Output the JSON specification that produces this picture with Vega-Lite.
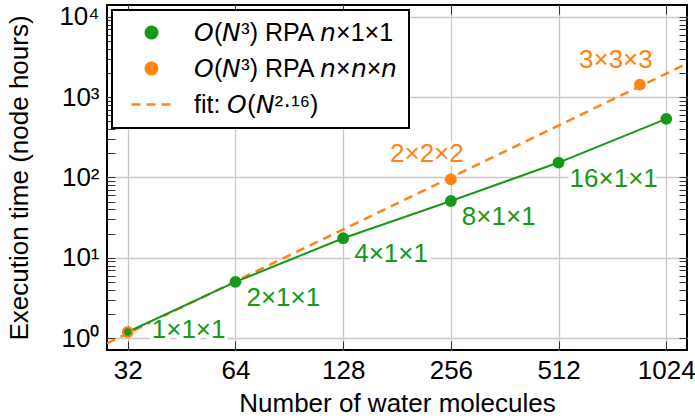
{
  "$schema": "https://vega.github.io/schema/vega-lite/v6.json",
  "width": 580,
  "height": 345,
  "autosize": {"type": "none"},
  "padding": {"left": 107, "top": 5, "right": 8, "bottom": 70},
  "background": "white",
  "config": {
    "font": "Liberation Sans",
    "view": {"stroke": "black", "strokeWidth": 2},
    "axis": {"labelFont": "Liberation Sans", "titleFont": "Liberation Sans", "labelColor": "black", "titleColor": "black", "titleFontWeight": "normal"}
  },
  "datasets": {
    "green": [
      {"N": 32, "t": 1.19, "series": "n11", "label": "1×1×1"},
      {"N": 64, "t": 5.0, "series": "n11", "label": "2×1×1"},
      {"N": 128, "t": 17.5, "series": "n11", "label": "4×1×1"},
      {"N": 256, "t": 50.8, "series": "n11", "label": "8×1×1"},
      {"N": 512, "t": 153, "series": "n11", "label": "16×1×1"},
      {"N": 1024, "t": 536, "series": "n11", "label": "32×1×1"}
    ],
    "orange": [
      {"N": 32, "t": 1.19, "series": "nnn", "label": "1×1×1"},
      {"N": 256, "t": 94.5, "series": "nnn", "label": "2×2×2"},
      {"N": 864, "t": 1430, "series": "nnn", "label": "3×3×3"}
    ],
    "fit": [
      {"N": 28, "t": 0.86, "series": "fit"},
      {"N": 1170, "t": 2610, "series": "fit"}
    ]
  },
  "resolve": {"axis": {"x": "independent", "y": "independent"}},
  "layer": [
    {
      "data": {"name": "fit"},
      "mark": {"type": "line", "strokeDash": [9, 6], "strokeWidth": 2.5, "clip": true},
      "encoding": {
        "x": {"field": "N", "type": "quantitative",
          "scale": {"type": "log", "base": 2, "domain": [28, 1170], "nice": false},
          "axis": {"orient": "bottom", "values": [32, 64, 128, 256, 512, 1024], "format": "d", "ticks": true, "tickSize": -9, "tickColor": "#333", "domain": false,
            "grid": true, "gridColor": "#c8c8c8", "gridWidth": 1.3,
            "labelFontSize": 26, "labelPadding": 16, "title": "Number of water molecules", "titleFontSize": 26, "titlePadding": 7}},
        "y": {"field": "t", "type": "quantitative",
          "scale": {"type": "log", "domain": [0.71, 14000], "nice": false},
          "axis": {"orient": "left", "values": [1,2,3,4,5,6,7,8,9,10,20,30,40,50,60,70,80,90,100,200,300,400,500,600,700,800,900,1000,2000,3000,4000,5000,6000,7000,8000,9000,10000],
            "ticks": true, "tickSize": -8, "tickColor": "#333", "domain": false,
            "grid": true, "gridColor": "#c8c8c8", "gridWidth": 1.3,
            "gridOpacity": {"condition": {"test": "abs(log(datum.value)/LN10 - round(log(datum.value)/LN10)) < 0.001", "value": 1}, "value": 0},
            "labelExpr": "abs(log(datum.value)/LN10 - round(log(datum.value)/LN10)) < 0.001 ? '10' + ['⁰','¹','²','³','⁴'][round(log(datum.value)/LN10)] : ''",
            "labelFontSize": 26, "labelPadding": 16, "title": "Execution time (node hours)", "titleFontSize": 26, "titlePadding": 26}},
        "color": {"field": "series", "type": "nominal",
          "scale": {"domain": ["n11", "nnn", "fit"], "range": ["#16991a", "#ff8414", "#ff8414"]},
          "legend": {"orient": "top-left", "offset": 5, "title": null, "fillColor": "white", "strokeColor": "black",
            "padding": 10, "rowPadding": 10, "labelFontSize": 25, "labelFont": "Liberation Sans", "labelColor": "black", "labelLimit": 600,
            "symbolType": "circle", "symbolSize": 130, "symbolOffset": 17, "labelOffset": 30,
            "labelExpr": "datum.value == 'n11' ? '𝘖(𝘕³) RPA 𝘯×1×1' : datum.value == 'nnn' ? '𝘖(𝘕³) RPA 𝘯×𝘯×𝘯' : 'fit: 𝘖(𝘕²·¹⁶)'",
            "encode": {
              "legend": {"update": {"strokeWidth": {"value": 2}}},
              "symbols": {"update": {
                "shape": {"signal": "datum.value === 'fit' ? 'stroke' : 'circle'"},
                "size": {"signal": "datum.value === 'fit' ? 1600 : 130"},
                "fill": {"signal": "datum.value === 'fit' ? 'transparent' : (datum.value === 'n11' ? '#16991a' : '#ff8414')"},
                "stroke": {"signal": "datum.value === 'fit' ? '#ff8414' : 'transparent'"},
                "strokeWidth": {"value": 2.5},
                "strokeDash": {"signal": "datum.value === 'fit' ? [9, 6] : [1, 0]"},
                "opacity": {"value": 1}
              }}
            }}}
      }
    },
    {
      "data": {"name": "green"},
      "transform": [{"filter": "datum.N == 32"}],
      "mark": {"type": "text", "align": "left", "baseline": "middle", "dx": 24, "dy": -2, "fontSize": 26, "fill": "white", "stroke": "white", "strokeWidth": 7},
      "encoding": {
        "x": {"field": "N", "type": "quantitative", "axis": null},
        "y": {"field": "t", "type": "quantitative", "axis": null},
        "text": {"field": "label"}
      }
    },
    {
      "data": {"name": "green"},
      "transform": [{"filter": "datum.N > 32 && datum.N < 1024"}],
      "mark": {"type": "text", "align": "left", "baseline": "middle", "dx": 11, "dy": 16, "fontSize": 26, "fill": "white", "stroke": "white", "strokeWidth": 7},
      "encoding": {
        "x": {"field": "N", "type": "quantitative", "axis": null},
        "y": {"field": "t", "type": "quantitative", "axis": null},
        "text": {"field": "label"}
      }
    },
    {
      "data": {"name": "orange"},
      "transform": [{"filter": "datum.N > 32"}],
      "mark": {"type": "text", "align": "center", "baseline": "middle", "dx": -24, "dy": -25, "fontSize": 26, "fill": "white", "stroke": "white", "strokeWidth": 7},
      "encoding": {
        "x": {"field": "N", "type": "quantitative", "axis": null},
        "y": {"field": "t", "type": "quantitative", "axis": null},
        "text": {"field": "label"}
      }
    },
    {
      "data": {"name": "green"},
      "mark": {"type": "line", "strokeWidth": 2},
      "encoding": {
        "x": {"field": "N", "type": "quantitative",
          "axis": {"orient": "top", "values": [32, 64, 128, 256, 512, 1024], "labels": false, "grid": false, "domain": false, "ticks": true, "tickSize": -9, "tickColor": "#333", "title": null}},
        "y": {"field": "t", "type": "quantitative",
          "axis": {"orient": "right", "values": [1,2,3,4,5,6,7,8,9,10,20,30,40,50,60,70,80,90,100,200,300,400,500,600,700,800,900,1000,2000,3000,4000,5000,6000,7000,8000,9000,10000],
            "labels": false, "grid": false, "domain": false, "ticks": true, "tickSize": -8, "tickColor": "#333", "title": null}},
        "color": {"field": "series", "type": "nominal"}
      }
    },
    {
      "data": {"name": "orange"},
      "mark": {"type": "circle", "size": 140, "opacity": 1},
      "encoding": {
        "x": {"field": "N", "type": "quantitative", "axis": null},
        "y": {"field": "t", "type": "quantitative", "axis": null},
        "color": {"field": "series", "type": "nominal"}
      }
    },
    {
      "data": {"name": "green"},
      "transform": [{"filter": "datum.N > 32"}],
      "mark": {"type": "circle", "size": 140, "opacity": 1},
      "encoding": {
        "x": {"field": "N", "type": "quantitative", "axis": null},
        "y": {"field": "t", "type": "quantitative", "axis": null},
        "color": {"field": "series", "type": "nominal"}
      }
    },
    {
      "data": {"name": "green"},
      "transform": [{"filter": "datum.N == 32"}],
      "mark": {"type": "circle", "size": 55, "opacity": 1},
      "encoding": {
        "x": {"field": "N", "type": "quantitative", "axis": null},
        "y": {"field": "t", "type": "quantitative", "axis": null},
        "color": {"field": "series", "type": "nominal"}
      }
    },
    {
      "data": {"name": "green"},
      "transform": [{"filter": "datum.N == 32"}],
      "mark": {"type": "text", "align": "left", "baseline": "middle", "dx": 24, "dy": -2, "fontSize": 26, "color": "#16991a"},
      "encoding": {
        "x": {"field": "N", "type": "quantitative", "axis": null},
        "y": {"field": "t", "type": "quantitative", "axis": null},
        "text": {"field": "label"}
      }
    },
    {
      "data": {"name": "green"},
      "transform": [{"filter": "datum.N > 32 && datum.N < 1024"}],
      "mark": {"type": "text", "align": "left", "baseline": "middle", "dx": 11, "dy": 16, "fontSize": 26, "color": "#16991a"},
      "encoding": {
        "x": {"field": "N", "type": "quantitative", "axis": null},
        "y": {"field": "t", "type": "quantitative", "axis": null},
        "text": {"field": "label"}
      }
    },
    {
      "data": {"name": "orange"},
      "transform": [{"filter": "datum.N > 32"}],
      "mark": {"type": "text", "align": "center", "baseline": "middle", "dx": -24, "dy": -25, "fontSize": 26, "color": "#ff8414"},
      "encoding": {
        "x": {"field": "N", "type": "quantitative", "axis": null},
        "y": {"field": "t", "type": "quantitative", "axis": null},
        "text": {"field": "label"}
      }
    }
  ]
}
